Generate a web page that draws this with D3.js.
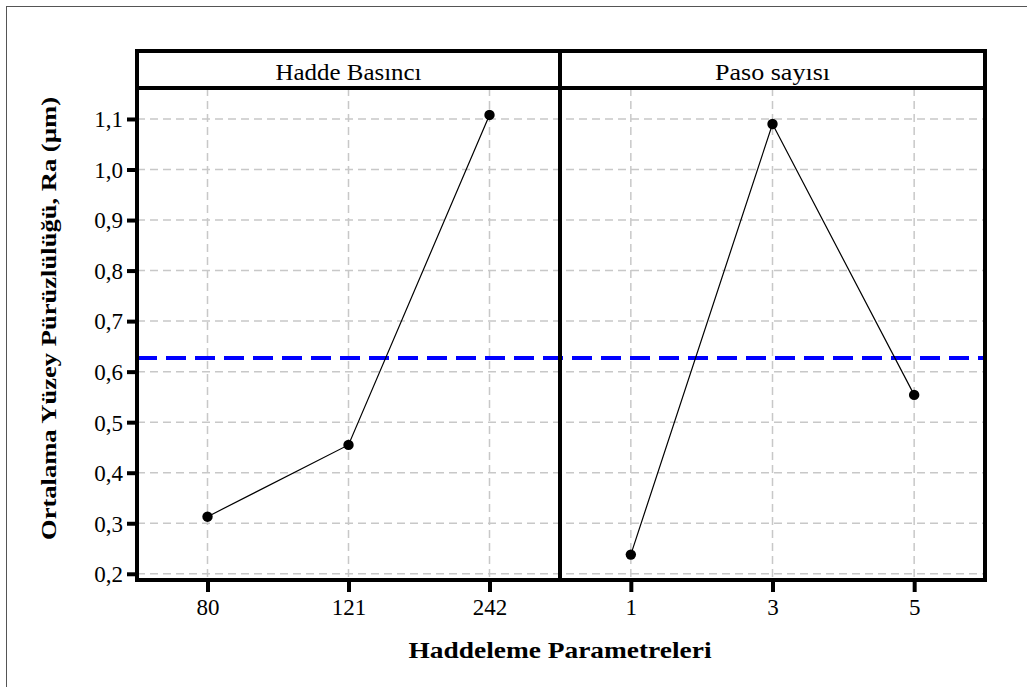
<!DOCTYPE html>
<html><head><meta charset="utf-8">
<script src="https://cdn.jsdelivr.net/npm/d3@7"></script>
<style>body{margin:0;background:#fff}svg{display:block}text{font-family:"Liberation Serif","Times New Roman",serif}</style>
</head><body>
<script>
const panels = ["Hadde Basıncı", "Paso sayısı"];
const categoriesHadde = ["80", "121", "242"];
const categoriesPaso = ["1", "3", "5"];
const valuesHadde = [0.313, 0.455, 1.108];
const valuesPaso = [0.238, 1.090, 0.554];
const grandMean = 0.627;
const yTicks = [0.2, 0.3, 0.4, 0.5, 0.6, 0.7, 0.8, 0.9, 1.0, 1.1];
const yLabel = "Ortalama Yüzey Pürüzlülüğü, Ra (µm)";
const xLabel = "Haddeleme Parametreleri";

const W = 1027, H = 687;
const svg = d3.select("body").append("svg").attr("width", W).attr("height", H);
svg.append("rect").attr("x", 6.5).attr("y", 6.5).attr("width", W + 10).attr("height", H + 10)
  .attr("fill", "none").attr("stroke", "#555").attr("stroke-width", 1);

const L = 137, R = 985, T = 88, B = 580, stripTop = 51, mid = 560;
const y = d3.scaleLinear().domain([0.1877, 1.1613]).range([B, T]);
const panelData = [
  {name: panels[0], cats: categoriesHadde, vals: valuesHadde, x0: L, x1: mid, tl: 146},
  {name: panels[1], cats: categoriesPaso, vals: valuesPaso, x0: mid, x1: R, tl: 115}
];
panelData.forEach(p => {
  p.x = d3.scalePoint().domain(p.cats).range([p.x0, p.x1]).padding(0.5);
});

// grid
const grid = svg.append("g").attr("stroke", "#c8c8c8").attr("stroke-width", 1.5).attr("stroke-dasharray", "8,5");
grid.selectAll("line.h").data(yTicks).join("line")
  .attr("x1", L).attr("x2", R).attr("y1", d => y(d)).attr("y2", d => y(d));
panelData.forEach(p => {
  grid.append("g").selectAll("line").data(p.cats).join("line")
    .attr("x1", d => p.x(d)).attr("x2", d => p.x(d)).attr("y1", T).attr("y2", B);
});

// mean line
svg.append("line").attr("x1", L).attr("x2", R).attr("y1", y(grandMean)).attr("y2", y(grandMean))
  .attr("stroke", "#0000ff").attr("stroke-width", 4).attr("stroke-dasharray", "20,9");

// series
panelData.forEach(p => {
  const line = d3.line().x((d, i) => p.x(p.cats[i])).y(d => y(d));
  svg.append("path").datum(p.vals).attr("d", line).attr("fill", "none").attr("stroke", "#000").attr("stroke-width", 1.2);
  svg.append("g").selectAll("path").data(p.vals).join("path")
    .attr("transform", (d, i) => `translate(${p.x(p.cats[i])},${y(d)})`)
    .attr("d", d3.symbol().type(d3.symbolCircle).size(85)).attr("fill", "#000");
});

// axes
const yAxis = d3.axisLeft(y).tickValues(yTicks).tickSize(10).tickPadding(4)
  .tickFormat(d => d3.format(".1f")(d).replace(".", ","));
const gy = svg.append("g").attr("transform", `translate(${L},0)`).call(yAxis);
gy.select(".domain").remove();
gy.selectAll(".tick line").attr("stroke", "#000").attr("stroke-width", 4);
gy.selectAll(".tick text").attr("font-size", 23).attr("fill", "#000").attr("dy", "0.34em");

panelData.forEach(p => {
  const xa = d3.axisBottom(p.x).tickSize(12).tickPadding(7);
  const gx = svg.append("g").attr("transform", `translate(0,${B})`).call(xa);
  gx.select(".domain").remove();
  gx.selectAll(".tick line").attr("stroke", "#000").attr("stroke-width", 4);
  gx.selectAll(".tick text").attr("font-size", 23).attr("fill", "#000");
});

// frames
const fr = svg.append("g").attr("fill", "none").attr("stroke", "#000").attr("stroke-width", 4);
fr.append("rect").attr("x", L).attr("y", stripTop).attr("width", R - L).attr("height", B - stripTop);
fr.append("line").attr("x1", L).attr("x2", R).attr("y1", T).attr("y2", T);
fr.append("line").attr("x1", mid).attr("x2", mid).attr("y1", stripTop).attr("y2", B);

// strip labels
panelData.forEach(p => {
  svg.append("text").attr("x", (p.x0 + p.x1) / 2).attr("y", (stripTop + T) / 2 + 10)
    .attr("text-anchor", "middle").attr("font-size", 23)
    .attr("textLength", p.tl).attr("lengthAdjust", "spacingAndGlyphs")
    .text(p.name);
});

// axis titles
svg.append("text").attr("x", 560).attr("y", 658).attr("text-anchor", "middle")
  .attr("font-size", 23).attr("font-weight", "bold")
  .attr("textLength", 303).attr("lengthAdjust", "spacingAndGlyphs").text(xLabel);
svg.append("text").attr("transform", `translate(56,${(97 + 540) / 2}) rotate(-90)`)
  .attr("text-anchor", "middle").attr("font-size", 22).attr("font-weight", "bold")
  .attr("textLength", 443).attr("lengthAdjust", "spacingAndGlyphs").text(yLabel);
</script>
</body></html>
